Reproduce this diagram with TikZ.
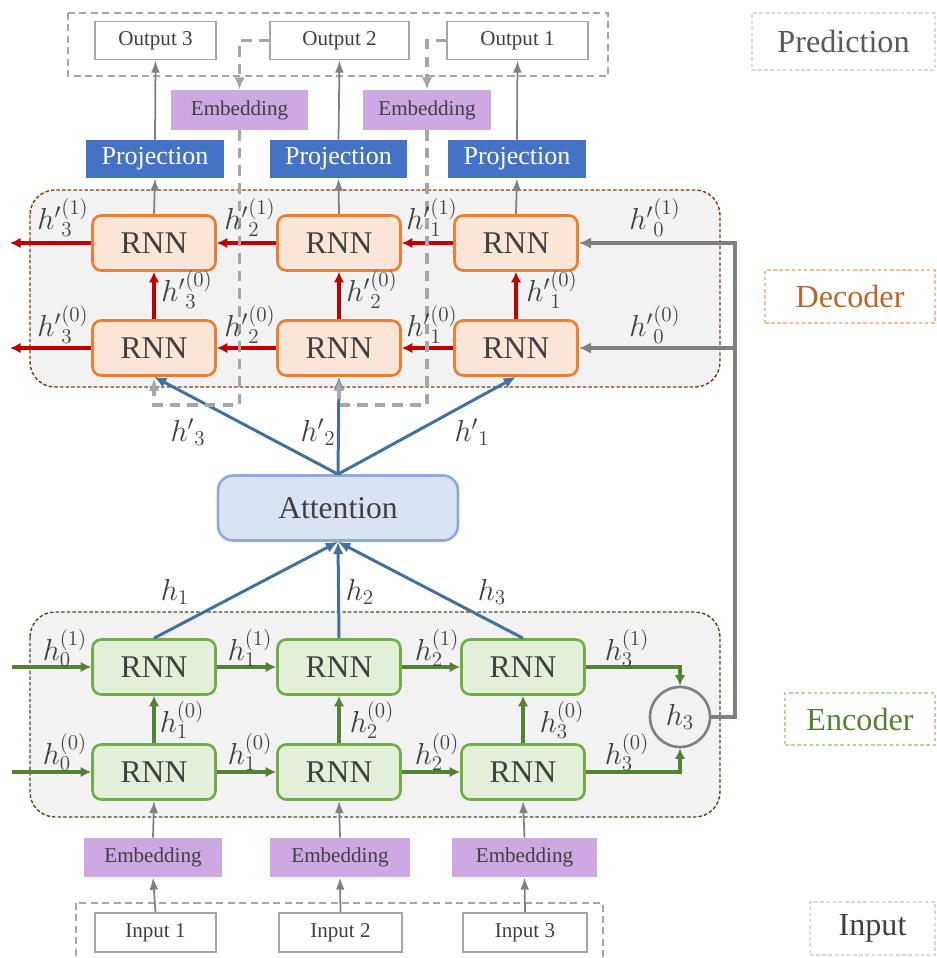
\documentclass[tikz,border=0pt]{standalone}
\usepackage{fontspec}
\setmainfont{Liberation Serif}
\usetikzlibrary{positioning, arrows.meta}

\definecolor{txtgray}{HTML}{404040}
\definecolor{linegray}{HTML}{808080}
\definecolor{dashgray}{HTML}{A6A6A6}
\definecolor{bgfill}{HTML}{F2F2F2}
\definecolor{decborder}{HTML}{843C0C}
\definecolor{encborder}{HTML}{385723}
\definecolor{decfill}{HTML}{FBE5D6}
\definecolor{decline}{HTML}{ED7D31}
\definecolor{decred}{HTML}{C00000}
\definecolor{encfill}{HTML}{E2F0D9}
\definecolor{encline}{HTML}{70AD47}
\definecolor{encgreen}{HTML}{548235}
\definecolor{attfill}{HTML}{DAE3F3}
\definecolor{attline}{HTML}{8FAADC}
\definecolor{attblue}{HTML}{41719C}
\definecolor{projblue}{HTML}{4472C4}
\definecolor{embpurple}{HTML}{CDA8E3}

\tikzset{
  rnnbase/.style={line width=1.5pt, rounded corners=5pt, minimum width=2.46cm,
    minimum height=1.1cm, text=txtgray, font=\fontsize{18}{20}\selectfont},
  rnndec/.style={rnnbase, draw=decline, fill=decfill},
  rnnenc/.style={rnnbase, draw=encline, fill=encfill},
  iobox/.style={draw=dashgray, line width=1pt, fill=white, minimum height=0.76cm,
    text=txtgray, font=\fontsize{12}{14}\selectfont},
  embbox/.style={fill=embpurple, minimum height=0.8cm, text=txtgray,
    font=\fontsize{12}{14}\selectfont},
  projbox/.style={fill=projblue, minimum width=2.76cm, minimum height=0.76cm,
    text=white, font=\fontsize{14.8}{16}\selectfont},
  tagbox/.style={draw, dashed, dash pattern=on 2pt off 1.5pt, line width=0.6pt,
    font=\fontsize{18.3}{20}\selectfont},
  hlab/.style={text=txtgray, font=\fontsize{16.5}{18}\selectfont},
  bgbox/.style={fill=bgfill, dashed, dash pattern=on 2pt off 1.2pt, line width=0.8pt,
    rounded corners=0.5cm},
  groupbox/.style={draw=dashgray, dashed, dash pattern=on 4pt off 2.5pt, line width=0.9pt},
  grayarrow/.style={draw=linegray, line width=1pt, -{Latex[length=7pt,width=5pt]}},
  decarrow/.style={draw=decred, line width=2pt, -{Latex[length=6pt,width=6pt]}},
  encarrow/.style={draw=encgreen, line width=2pt, -{Latex[length=6pt,width=6pt]}},
  attarrow/.style={draw=attblue, line width=1.7pt, -{Latex[length=7pt,width=6pt]}},
  fbarrow/.style={draw=linegray, line width=2pt, -{Latex[length=7pt,width=6.5pt]}},
  dasharrow/.style={draw=dashgray, line width=1.8pt, dash pattern=on 6pt off 4pt,
    -{Latex[length=7pt,width=6pt]}}
}

\begin{document}
\begin{tikzpicture}[x=0.02cm, y=-0.02cm]
\useasboundingbox (0,0) rectangle (937,958);

% grey panels and dashed groups
\draw[bgbox, draw=decborder] (30,190) rectangle (720,387);
\draw[bgbox, draw=encborder] (30,612) rectangle (720,817);
\draw[groupbox] (68,13) rectangle (608,76);
\draw[groupbox] (76,903) rectangle (603,975);

% right hand tags
\node[tagbox, draw=black!15, text=black!65, minimum width=3.66cm, minimum height=1.14cm] (tagpred) at (843.5,41.5) {Prediction};
\node[tagbox, draw=decline!50, text=decline!80!black, minimum width=3.4cm, minimum height=1.06cm] (tagdec) at (850,296.5) {Decoder};
\node[tagbox, draw=encline!50, text=encgreen, minimum width=3cm, minimum height=1.04cm] (tagenc) at (860,719) {Encoder};
\node[tagbox, draw=black!15, text=txtgray, minimum width=2.5cm, minimum height=1.06cm] (taginp) at (872.5,928.5) {Input};

% outputs
\node[iobox, minimum width=2.42cm] (out3) at (155.5,40.5) {Output 3};
\node[iobox, minimum width=2.78cm] (out2) at (339.5,40.5) {Output 2};
\node[iobox, minimum width=2.82cm] (out1) at (517.5,40.5) {Output 1};

% decoder side embeddings
\node[embbox, minimum width=2.74cm] (embo2) at (239.5,110) {Embedding};
\node[embbox, minimum width=2.56cm] (embo1) at (427,110) {Embedding};

% projections
\node[projbox] (proj3) at (155,159) {Projection};
\node[projbox] (proj2) at (338.5,159) {Projection};
\node[projbox] (proj1) at (517,159) {Projection};

% decoder cells
\node[rnndec] (dt3) at (154,243) {RNN};
\node[rnndec] (dt2) at (339,243) {RNN};
\node[rnndec] (dt1) at (516,243) {RNN};
\node[rnndec] (db3) at (154,348) {RNN};
\node[rnndec] (db2) at (339,348) {RNN};
\node[rnndec] (db1) at (516,348) {RNN};

% attention
\node[draw=attline, fill=attfill, line width=1.5pt, rounded corners=0.3cm, minimum width=4.8cm,
  minimum height=1.3cm, text=txtgray, font=\fontsize{18}{20}\selectfont] (att) at (338,508) {Attention};

% encoder cells
\node[rnnenc] (et1) at (154,667) {RNN};
\node[rnnenc] (et2) at (339,667) {RNN};
\node[rnnenc] (et3) at (523,667) {RNN};
\node[rnnenc] (eb1) at (154,772) {RNN};
\node[rnnenc] (eb2) at (339,772) {RNN};
\node[rnnenc] (eb3) at (523,772) {RNN};
\node[circle, draw=linegray, fill=bgfill, line width=1.5pt, minimum size=1.2cm, inner sep=0pt,
  text=txtgray, font=\fontsize{16.5}{18}\selectfont] (h3) at (680,717) {$h_3$};

% encoder side embeddings and inputs
\node[embbox, minimum width=2.76cm, minimum height=0.78cm] (emb1) at (153,857.5) {Embedding};
\node[embbox, minimum width=2.8cm, minimum height=0.78cm] (emb2) at (340,857.5) {Embedding};
\node[embbox, minimum width=2.9cm, minimum height=0.78cm] (emb3) at (524.5,857.5) {Embedding};
\node[iobox, minimum width=2.42cm, minimum height=0.78cm] (in1) at (155.5,932.5) {Input 1};
\node[iobox, minimum width=2.46cm, minimum height=0.78cm] (in2) at (340.5,932.5) {Input 2};
\node[iobox, minimum width=2.48cm, minimum height=0.78cm] (in3) at (525,932.5) {Input 3};

% free ends
\coordinate (doutt) at (10,243);
\coordinate (doutb) at (10,348);
\coordinate (eint) at (12,667);
\coordinate (einb) at (12,772);
\coordinate (fbt) at (735,243);
\coordinate (dlow) at (0,405);

% decoder flow
\foreach \r in {t,b} {
  \draw[decarrow] (d\r1.west) -- (d\r2.east);
  \draw[decarrow] (d\r2.west) -- (d\r3.east);
  \draw[decarrow] (d\r3.west) -- (dout\r);
}
\foreach \i in {1,2,3} {
  \draw[decarrow] (db\i.north) -- (dt\i.south);
  \draw[grayarrow] (dt\i.north) -- (proj\i.south);
  \draw[grayarrow] (proj\i.north) -- (out\i.south);
}

% encoder flow
\draw[encarrow] (eint) -- (et1.west);
\draw[encarrow] (einb) -- (eb1.west);
\foreach \r in {t,b} {
  \draw[encarrow] (e\r1.east) -- (e\r2.west);
  \draw[encarrow] (e\r2.east) -- (e\r3.west);
}
\draw[encarrow] (et3.east) -| (h3.north);
\draw[encarrow] (eb3.east) -| (h3.south);
\foreach \i in {1,2,3} {
  \draw[encarrow] (eb\i.north) -- (et\i.south);
  \draw[grayarrow] (in\i.north) -- (emb\i.south);
  \draw[grayarrow] (emb\i.north) -- (eb\i.south);
}

% attention links
\foreach \i in {1,2,3} {
  \draw[attarrow] (et\i.north) -- (att.south);
  \draw[attarrow] (att.north) -- (db\i.south);
}

% context vector to decoder
\draw[fbarrow] (h3.east) -| (fbt) -- (dt1.east);
\draw[fbarrow] (fbt |- db1.east) -- (db1.east);

% previous output fed back
\draw[dasharrow] (out2.west) -| (embo2.north);
\draw[dasharrow] (embo2.south) -- (embo2.south |- dlow) -| ([yshift=-1pt]db3.south);
\draw[dasharrow] (out1.west) -| (embo1.north);
\draw[dasharrow] (embo1.south) -- (embo1.south |- dlow) -| ([yshift=-1pt]db2.south);

% state labels, decoder
\node[hlab] (ld13) at (63,218) {${h'}^{(1)}_{3}$};
\node[hlab] (ld12) at (250,218) {${h'}^{(1)}_{2}$};
\node[hlab] (ld11) at (432,218) {${h'}^{(1)}_{1}$};
\node[hlab] (ld10) at (655,218) {${h'}^{(1)}_{0}$};
\node[hlab] (ld03) at (63,325) {${h'}^{(0)}_{3}$};
\node[hlab] (ld02) at (250,325) {${h'}^{(0)}_{2}$};
\node[hlab] (ld01) at (432,325) {${h'}^{(0)}_{1}$};
\node[hlab] (ld00) at (655,325) {${h'}^{(0)}_{0}$};
\node[hlab] (lv3) at (187,290) {${h'}^{(0)}_{3}$};
\node[hlab] (lv2) at (372,290) {${h'}^{(0)}_{2}$};
\node[hlab] (lv1) at (552,290) {${h'}^{(0)}_{1}$};

% attention labels
\node[hlab] (la3) at (188,432) {${h'}_{3}$};
\node[hlab] (la2) at (318,432) {${h'}_{2}$};
\node[hlab] (la1) at (472,432) {${h'}_{1}$};
\node[hlab] (le1) at (175,592) {$h_{1}$};
\node[hlab] (le2) at (360,592) {$h_{2}$};
\node[hlab] (le3) at (492,592) {$h_{3}$};

% state labels, encoder
\node[hlab] (le10) at (65,648) {$h^{(1)}_{0}$};
\node[hlab] (le11) at (250,648) {$h^{(1)}_{1}$};
\node[hlab] (le12) at (437,648) {$h^{(1)}_{2}$};
\node[hlab] (le13) at (627,648) {$h^{(1)}_{3}$};
\node[hlab] (le00) at (65,752) {$h^{(0)}_{0}$};
\node[hlab] (le01) at (250,752) {$h^{(0)}_{1}$};
\node[hlab] (le02) at (437,752) {$h^{(0)}_{2}$};
\node[hlab] (le03) at (627,752) {$h^{(0)}_{3}$};
\node[hlab] (lu1) at (182,720) {$h^{(0)}_{1}$};
\node[hlab] (lu2) at (372,720) {$h^{(0)}_{2}$};
\node[hlab] (lu3) at (562,720) {$h^{(0)}_{3}$};

\end{tikzpicture}
\end{document}
